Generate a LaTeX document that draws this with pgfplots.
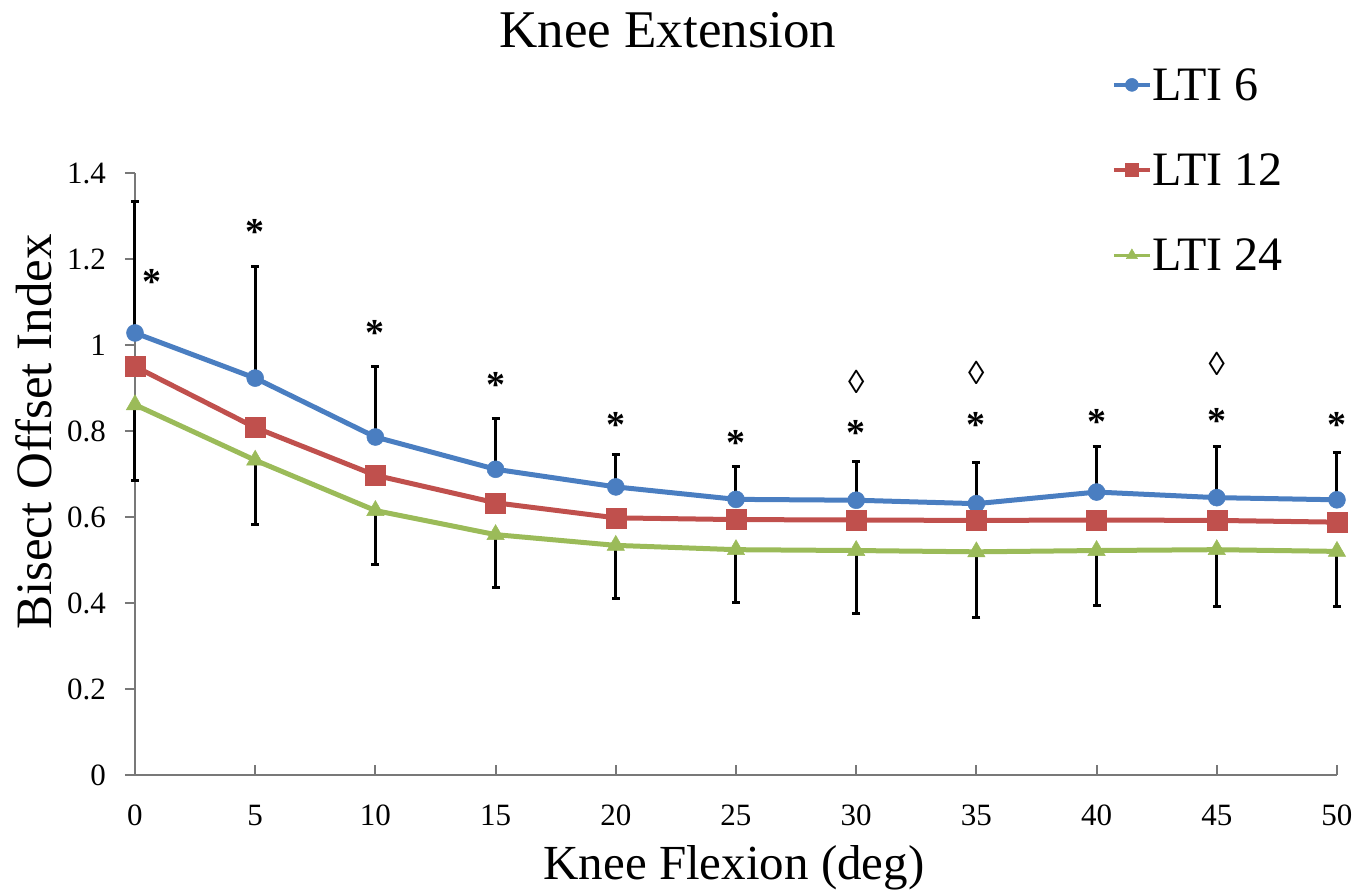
\documentclass[border=0pt]{standalone}
\usepackage{fontspec}
\setmainfont{Liberation Serif}
\usepackage{pgfplots}
\pgfplotsset{compat=1.18}
\definecolor{cBlue}{RGB}{74,126,193}
\definecolor{cRed}{RGB}{192,80,77}
\definecolor{cGreen}{RGB}{155,187,89}
\definecolor{axgray}{RGB}{120,120,120}
\begin{document}
\begin{tikzpicture}[x=1bp,y=1bp]
\path[use as bounding box] (-135,-117) rectangle (1236,775);
\begin{axis}[
  at={(0,0)}, anchor=south west,
  scale only axis, width=1202bp, height=602bp,
  xmin=0, xmax=50, ymin=0, ymax=1.4,
  clip=false,
  axis lines=left,
  axis line style={axgray, line width=2.5bp, -},
  xtick={0,5,...,50},
  ytick={0,0.2,0.4,0.6,0.8,1,1.2,1.4},
  tick align=inside, major tick length=10bp,
  tick style={axgray, line width=2bp},
  ytick style={xshift=-10bp},
  /pgf/number format/assume math mode=true,
  yticklabel style={anchor=east, inner sep=0pt, xshift=-29bp, font=\fontsize{31bp}{31bp}\selectfont},
  xticklabel style={anchor=base, inner sep=0pt, yshift=-50bp, font=\fontsize{31bp}{31bp}\selectfont},
  title={Knee Extension},
  title style={at={(axis description cs:0.4434,1.228)}, anchor=center, inner sep=0pt, font=\fontsize{53bp}{53bp}\selectfont},
  xlabel={Knee Flexion (deg)},
  xlabel style={at={(axis description cs:0.4983,-0.1744)}, anchor=base, inner sep=0pt, font=\fontsize{49bp}{49bp}\selectfont},
  ylabel={Bisect Offset Index},
  ylabel style={at={(axis description cs:-0.084,0.5698)}, anchor=center, rotate=0, inner sep=0pt, font=\fontsize{51bp}{51bp}\selectfont},
  legend style={at={(axis description cs:0.8128,1.176)}, anchor=north west, draw=none, fill=none,
    font=\fontsize{48bp}{48bp}\selectfont, row sep=50bp, inner sep=0pt,
    nodes={inner sep=1bp}, cells={anchor=west}},
  legend image code/.code={\draw[mark repeat=2, mark phase=2, #1, line width=3.5bp, mark size=6.5bp] plot coordinates {(0bp,0bp) (18bp,0bp) (36bp,0bp)};},
]
% annotations: asterisks
\addplot[draw=none, mark=none, forget plot, nodes near coords, point meta=explicit symbolic,
  every node near coord/.style={anchor=base, yshift=-19bp, inner sep=0pt, text=black, font=\bfseries\fontsize{38bp}{38bp}\selectfont}]
  table[meta=lab] {
x y lab
0.7 1.162 *
5 1.279 *
10 1.042 *
15 0.921 *
20 0.828 *
25 0.788 *
30 0.810 *
35 0.828 *
40 0.835 *
45 0.839 *
50 0.828 *
};
% annotations: diamonds
\addplot[draw=none, mark=none, forget plot, nodes near coords, point meta=explicit symbolic,
  every node near coord/.style={anchor=base, yshift=-12bp, inner sep=0pt, text=black, font=\bfseries\fontsize{33bp}{33bp}\selectfont}]
  table[meta=lab] {
x y lab
30 0.915 ◊
35 0.936 ◊
45 0.956 ◊
};
% LTI 6
\addplot[cBlue, line width=5bp, mark=*, mark size=8.5bp, mark options={solid, fill=cBlue, draw=cBlue, line width=0.5bp},
  error bars/.cd, y dir=plus, y explicit, error bar style={black, line width=3bp},
  error mark options={rotate=90, black, mark size=4bp, line width=3bp}]
  table[x=x, y=y, y error=e] {
x y e
0 1.028 0.305
5 0.923 0.260
10 0.786 0.164
15 0.711 0.118
20 0.670 0.076
25 0.641 0.076
30 0.639 0.090
35 0.631 0.095
40 0.658 0.107
45 0.645 0.118
50 0.640 0.110
};
\addlegendentry{LTI 6}
% LTI 12
\addplot[cRed, line width=5bp, mark=square*, mark size=10bp, mark options={solid, fill=cRed, draw=cRed, line width=0.5bp}]
  table[x=x, y=y] {
x y
0 0.950
5 0.808
10 0.697
15 0.633
20 0.598
25 0.594
30 0.593
35 0.592
40 0.593
45 0.592
50 0.588
};
\addlegendentry{LTI 12}
% LTI 24
\addplot[cGreen, line width=5bp, mark=triangle*, mark size=10bp, mark options={solid, fill=cGreen, draw=cGreen, line width=0.5bp},
  error bars/.cd, y dir=minus, y explicit, error bar style={black, line width=3bp},
  error mark options={rotate=90, black, mark size=4bp, line width=3bp}]
  table[x=x, y=y, y error=e] {
x y e
0 0.861 0.175
5 0.732 0.149
10 0.615 0.126
15 0.559 0.124
20 0.534 0.124
25 0.524 0.123
30 0.522 0.146
35 0.519 0.153
40 0.522 0.127
45 0.524 0.133
50 0.520 0.129
};
\addlegendentry{LTI 24}
\end{axis}
\end{tikzpicture}
\end{document}
